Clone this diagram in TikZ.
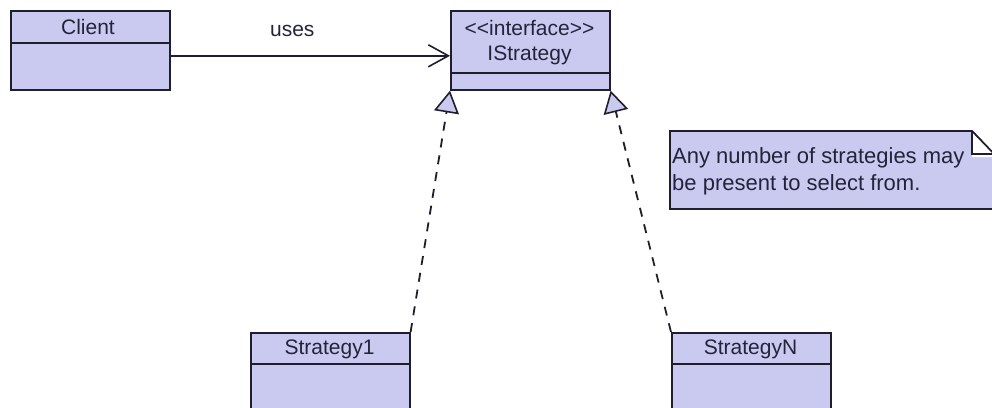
\documentclass[tikz,border=0pt]{standalone}
\usepackage{fontspec}
\setmainfont{Liberation Sans}
\usetikzlibrary{arrows.meta,calc}
\definecolor{lav}{RGB}{202,202,240}
\definecolor{edge}{RGB}{30,30,45}
\definecolor{txt}{RGB}{35,35,60}
\begin{document}
\begin{tikzpicture}[x=1pt,y=-1pt,
  font=\fontsize{21}{27}\selectfont,
  classbox/.style={draw=edge,fill=lav,line width=1.6pt,minimum width=159pt,inner sep=0pt,anchor=north west},
  lbl/.style={text=txt,inner sep=0pt},
  uses/.style={draw=edge,line width=1.6pt,-{Straight Barb[length=20pt,width=22pt,line width=1.6pt]}},
  real/.style={draw=edge,line width=1.8pt,dash pattern=on 9pt off 8pt,-{Triangle[open,fill=lav,length=22pt,width=25pt,line width=1.6pt]}}
]
\useasboundingbox (0,0) rectangle (992,407);
\clip (0,0) rectangle (992,407);
\fill[white] (0,0) rectangle (992,407);
% Client
\node[classbox,minimum height=79pt] (client) at (10,10) {};
\draw[edge,line width=1.6pt] ($(client.north west)+(0,33)$) coordinate (cd1) -- (cd1 -| client.east);
\node[lbl] (clientt) at (88,27) {Client};
% IStrategy
\node[classbox,minimum height=79pt] (istr) at (450,10) {};
\draw[edge,line width=1.6pt] ($(istr.north west)+(0,63)$) coordinate (id1) -- (id1 -| istr.east);
\node[lbl] (istrst) at (529.5,28) {{<}{<}interface{>}{>}};
\node[lbl] (istrt) at (529.5,55) {IStrategy};
% Strategy1
\node[classbox,minimum height=100pt] (s1) at (250,332) {};
\draw[edge,line width=1.6pt] ($(s1.north west)+(0,32)$) coordinate (sd1) -- (sd1 -| s1.east);
\node[lbl] (s1t) at (329.5,349) {Strategy1};
% StrategyN
\node[classbox,minimum height=100pt] (sn) at (671,332) {};
\draw[edge,line width=1.6pt] ($(sn.north west)+(0,32)$) coordinate (snd1) -- (snd1 -| sn.east);
\node[lbl] (snt) at (750.5,349) {StrategyN};
% connectors
\draw[uses] ([yshift=-5.5pt]client.east) -- ([yshift=-5.5pt]istr.west) node[lbl,midway,above=18pt,xshift=-18pt] (usest) {uses};
\draw[real] (s1.north east) -- (istr.south west);
\draw[real] (sn.north west) -- (istr.south east);
% note
\coordinate (nA) at (670,131);
\coordinate (nF) at (972,131);
\coordinate (nG) at (997,157);
\coordinate (nC) at (997,209);
\draw[edge,fill=lav,line width=1.6pt] (nA) -- (nF) -- (nG) -- (nC) -- (670,209) -- cycle;
\fill[white] (nF) -- (nG) -- (972,157) -- cycle;
\draw[edge,line width=1.6pt] (nF) -- (972,154) -- (997,154);
\draw[edge,line width=1.6pt] (nF) -- (997,157);
\node[lbl,anchor=north west,align=left,font=\fontsize{22}{27}\selectfont] (note) at (672,147) {Any number of strategies may\\be present to select from.};
\end{tikzpicture}
\end{document}
